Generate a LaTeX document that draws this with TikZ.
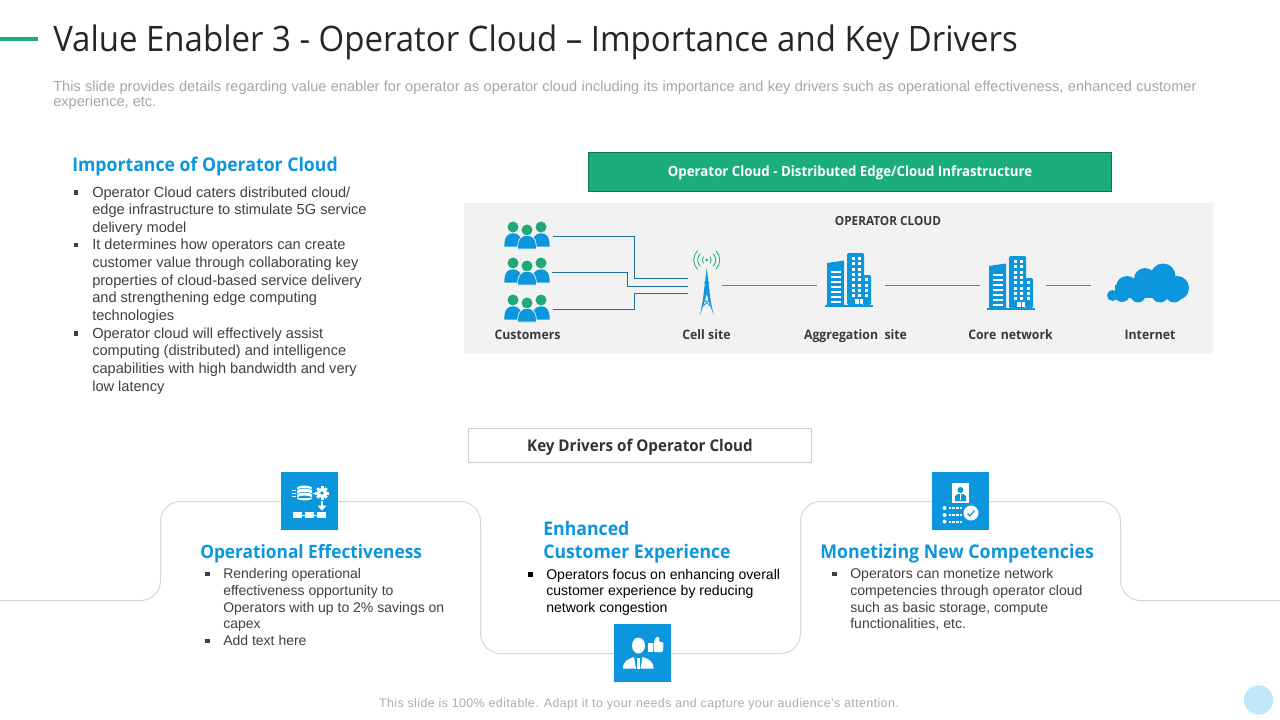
\documentclass[tikz,border=0pt]{standalone}
\usepackage{fontspec}
\setmainfont{Liberation Sans}
\newfontfamily\segoe[FakeStretch=0.94]{Open Sans}
\definecolor{sky}{HTML}{0B96DE}
\definecolor{leaf}{HTML}{1BAE7C}
\definecolor{peoplegreen}{HTML}{1FA878}
\definecolor{wire}{HTML}{1F6F9F}
\definecolor{wirelight}{HTML}{1E9BC8}
\definecolor{ink}{HTML}{404040}
\definecolor{labelink}{HTML}{3A3A3A}
\definecolor{dotblue}{HTML}{BFE7FA}
\newcommand{\bul}{\rule[1.9pt]{3.2pt}{3.2pt}}
\newcommand{\bl}[1]{\llap{\bul\hspace{#1}}}
\tikzset{
 x=0.75pt,y=-0.75pt,
 txt/.style={inner sep=0pt,anchor=north west,align=left,text=ink,font=\fontsize{10.95}{13.23}\selectfont},
 head/.style={inner sep=0pt,anchor=west,text=sky,align=left},
 lab/.style={inner sep=0pt,text=labelink,text height=7.5pt,text depth=2.2pt,font=\segoe\bfseries\fontsize{9.8}{12}\selectfont},
 iconbox/.style={fill=sky,draw=none,minimum width=42.75pt,minimum height=43.5pt,inner sep=0pt},
 custline/.style={draw=wire,line width=0.75pt},
 linkline/.style={draw=wirelight,line width=0.75pt},
 people/.pic={
  \foreach \xx/\yy/\ww in {-14/-8/8.7,14/-8/8.7}{
   \fill[peoplegreen] (\xx,\yy) circle (5.5);
   \fill[sky] (\xx-\ww,\yy+19.7) .. controls (\xx-\ww,\yy+9) and (\xx-5,\yy+6.3) .. (\xx,\yy+6.3) .. controls (\xx+5,\yy+6.3) and (\xx+\ww,\yy+9) .. (\xx+\ww,\yy+19.7) -- cycle;
  }
  \fill[peoplegreen] (0,-5) circle (5.5);
  \draw[fill=sky,draw=black!5,line width=0.5pt] (-9.5,14) .. controls (-9.5,3) and (-5,0.3) .. (0,0.3) .. controls (5,0.3) and (9.5,3) .. (9.5,14) -- cycle;
 },
 building/.pic={
  \fill[sky] (0,0) rectangle (48,-2.5);
  \fill[sky] (2,-2) -- (2,-44) -- (19,-46.5) -- (19,-2) -- cycle;
  \fill[sky,rounded corners=1pt] (22,-2) -- (22,-54) -- (39,-54) -- (39,-2) -- cycle;
  \fill[sky,rounded corners=1pt] (38,-2) -- (38,-32) -- (46,-32) -- (46,-2) -- cycle;
  \foreach \yy in {-6,-11,...,-39}{\fill[white] (6,\yy) rectangle (16,\yy+2);}
  \foreach \yy in {-50,-44.7,...,-12}{
   \fill[white] (26.5,\yy) rectangle (29.8,\yy+3);
   \fill[white] (32.5,\yy) rectangle (35.8,\yy+3);}
  \foreach \yy in {-28.8,-23.5,...,-11}{\fill[white] (39.8,\yy) rectangle (43,\yy+3);}
  \fill[white] (30,-8) rectangle (33.5,-3);
  \fill[white] (34.5,-8) rectangle (38,-3);
 },
 gearpic/.pic={
  \foreach \a in {0,45,...,315}{\fill[white,rotate=\a] (-1.5,-6.7) rectangle (1.5,0);}
  \fill[white] (0,0) circle (5);
  \fill[sky] (0,0) circle (1.8);
 },
}
\begin{document}
\begin{tikzpicture}
\useasboundingbox (0,0) rectangle (1280,720);
\fill[white] (0,0) rectangle (1280,720);
% header
\fill[leaf] (0,37.5) rectangle (38,41.5);
\node[inner sep=0pt,anchor=west,text=black!85,font=\segoe\fontsize{26.3}{30}\selectfont] (title) at (53,42) {Value Enabler 3 - Operator Cloud – Importance and Key Drivers};
\node[inner sep=0pt,anchor=north west,align=left,text=black!35,font=\fontsize{10.95}{11.3}\selectfont] (subtitle) at (53,80.5) {\makebox[857.5pt][s]{This slide provides details regarding value enabler for operator as operator cloud including its importance and key drivers such as operational effectiveness, enhanced customer}\\experience, etc.};
% left column
\node[head,font=\segoe\bfseries\fontsize{14.1}{17}\selectfont] (imphead) at (72,166.5) {Importance of Operator Cloud};
\node[txt] (implist) at (92,186.2) {\bl{10.5pt}Operator Cloud caters distributed cloud/\\edge infrastructure to stimulate 5G service\\delivery model\\\bl{10.5pt}It determines how operators can create\\customer value through collaborating key\\properties of cloud-based service delivery\\and strengthening edge computing\\technologies\\\bl{10.5pt}Operator cloud will effectively assist\\computing (distributed) and intelligence\\capabilities with high bandwidth and very\\low latency};
% green banner
\node[fill=leaf,draw=black!35!leaf,line width=0.4pt,minimum width=392.5pt,minimum height=29pt,inner sep=0pt,text=white,font=\segoe\bfseries\fontsize{10.6}{12}\selectfont] (banner) at (850,171.5) {\raisebox{-4.1pt}[0pt][0pt]{Operator Cloud - Distributed Edge/Cloud Infrastructure}};
% grey panel
\node[fill=black!5,minimum width=561.75pt,minimum height=113.25pt,inner sep=0pt] (panel) at (838.5,278.5) {};
\node[lab,font=\segoe\bfseries\fontsize{9.4}{11}\selectfont] (opcloud) at (888,222) {OPERATOR CLOUD};
% customers
\pic at (527,235) {people};
\pic at (527,271) {people};
\pic at (527,308) {people};
\coordinate (c1) at (553,236.5);
\coordinate (c2) at (552,272.5);
\coordinate (c3) at (553,309);
\coordinate (t1) at (688,278.5);
\coordinate (t2) at (688,286.5);
\coordinate (t3) at (688,293.5);
\draw[custline] (c1) -- (634.5,236.5) |- (t1);
\draw[custline] (c2) -- (627,272.5) |- (t2);
\draw[custline] (c3) -- (634.5,309) |- (t3);
% tower
\coordinate (towerR) at (722,285);
\fill[sky] (706.7,268) -- (710.5,300) -- (713.5,315) -- (708.3,300) -- (706.7,290) -- (705.1,300) -- (700,315) -- (702.9,300) -- cycle;
\draw[sky,line width=0.6pt] (704.4,282) -- (709,290) -- (703.6,299) -- (710,306);
\draw[sky,line width=0.6pt] (709,282) -- (704.4,290) -- (709.8,299) -- (703.4,306);
\fill[peoplegreen] (706.7,260) circle (1.5);
\foreach \r in {4.5,9,13}{
 \draw[peoplegreen,line width=0.6pt] (706.7,260)++(-45:\r) arc[start angle=-45,end angle=45,radius=\r];
 \draw[peoplegreen,line width=0.6pt] (706.7,260)++(135:\r) arc[start angle=135,end angle=225,radius=\r];
}
% sites
\pic at (825,307) {building};
\pic at (987,310) {building};
\coordinate (a1) at (817,285);
\coordinate (a2) at (885,285);
\coordinate (b1) at (980,285);
\coordinate (b2) at (1046,285);
\coordinate (i1) at (1091,285);
\draw[linkline] (towerR) -- (a1);
\draw[linkline] (a2) -- (b1);
\draw[linkline] (b2) -- (i1);
% cloud
\foreach \cx/\cy/\cr in {1112.5/295.5/5.5,1127/287/11,1145/279/11,1163/276/12.5,1177/288/12,1138/295/7.5,1160/294/8.5,1174/294/8.5,1122/294/8}{\fill[sky] (\cx,\cy) circle (\cr);}
\fill[sky] (1115,285) rectangle (1175,298);
% labels
\node[lab] (lcust) at (527.5,335.7) {Customers};
\node[lab] (lcell) at (706.5,335.7) {Cell site};
\node[lab] (lagg) at (855.5,335.7) {Aggregation\ \ site};
\node[lab] (lcore) at (1010.5,335.7) {Core\hspace{3.4pt}network};
\node[lab] (lint) at (1150,335.7) {Internet};
% key drivers
\node[draw=black!20,fill=white,line width=0.75pt,minimum width=257pt,minimum height=25.5pt,inner sep=0pt,text=black!80,font=\segoe\bfseries\fontsize{12.1}{14}\selectfont] (keyd) at (640,445.5) {\raisebox{-4.4pt}[0pt][0pt]{Key Drivers of Operator Cloud}};
% outline
\draw[black!16,line width=0.75pt,rounded corners=15pt] (-5,600.5) -- (160.5,600.5) -- (160.5,501.5) -- (480.5,501.5) -- (480.5,653.5) -- (800.5,653.5) -- (800.5,501.5) -- (1120.5,501.5) -- (1120.5,600.5) -- (1285,600.5);
% icon boxes
\node[iconbox] (box1) at (309.5,501) {};
\node[iconbox] (box2) at (960.5,501) {};
\node[iconbox] (box3) at (642.5,653) {};
% icon 1
\begin{scope}[shift={(304.5,488)}]
 \fill[white] (0,0) ellipse (7.5 and 2.4);
 \fill[white] (-7.5,1) rectangle (7.5,10) (0,10) ellipse (7.5 and 2.4);
 \draw[sky,line width=0.4pt] (-7.5,2.5) arc[start angle=180,end angle=360,x radius=7.5,y radius=2.2];
 \draw[sky,line width=0.4pt] (-7.5,6.5) arc[start angle=180,end angle=360,x radius=7.5,y radius=2.2];
 \draw[white,line width=0.6pt] (-12.5,2) -- (-8.5,2) (-12.5,5) -- (-8.5,5) (-12.5,8) -- (-8.5,8);
 \draw[white,line width=0.6pt] (8,5) -- (12,5);
\end{scope}
\pic at (322,493) {gearpic};
\fill[white] (320.8,500.5) rectangle (323.2,506);
\fill[white] (317.5,505.5) -- (326.5,505.5) -- (322,510.5) -- cycle;
\foreach \xx in {297.5,309,321.5}{\fill[white] (\xx-4.5,512) rectangle (\xx+4.5,518);}
\draw[white,line width=0.5pt] (297,515) -- (321,515);
% icon 2
\fill[white] (952,483) rectangle (969,503);
\fill[sky] (960.5,490) circle (3);
\fill[sky] (955,501) -- (955,496) -- (958,494) -- (963,494) -- (966,496) -- (966,501) -- cycle;
\fill[white] (959.7,494) rectangle (961.3,500);
\foreach \yy in {508,515,521.5}{
 \fill[white] (944.5,\yy) circle (2);
 \draw[white,line width=1.5pt,dash pattern=on 2.2pt off 0.7pt] (948.5,\yy) -- (962,\yy);
}
\fill[white] (971,513) circle (7.5);
\draw[sky,line width=0.9pt] (967.5,513.5) -- (970,516) -- (974.5,510.5);
% icon 3
\fill[white] (638.5,645.5) ellipse (6.5 and 8);
\fill[white] (623,668.5) .. controls (623,661) and (628,659) .. (634,657) -- (636,668.5) -- cycle;
\fill[white] (653.5,668.5) .. controls (653.5,661) and (648.5,659) .. (642.5,657) -- (640.5,668.5) -- cycle;
\fill[white] (636.8,658) rectangle (639.8,668.5);
\fill[white] (648,642.5) rectangle (652.5,652);
\fill[white,rounded corners=1pt] (653.5,652) -- (653.5,643) -- (656.5,636.5) -- (659.5,637) -- (659,642) -- (663.5,642) -- (663,652) -- cycle;
% driver text
\node[head,font=\segoe\bfseries\fontsize{13.8}{17.3}\selectfont] (h1) at (200,554) {Operational Effectiveness};
\node[txt,font=\fontsize{10.5}{12.55}\selectfont] (t1list) at (223,568.3) {\bl{10.3pt}Rendering operational\\effectiveness opportunity to\\Operators with up to 2\% savings on\\capex\\\bl{10.3pt}Add text here};
\node[head,font=\segoe\bfseries\fontsize{14.1}{17.3}\selectfont] (h2) at (543,542) {Enhanced\\Customer Experience};
\node[txt,text=black,font=\fontsize{10.55}{12.4}\selectfont] (t2list) at (546,568.7) {\bl{10.3pt}Operators focus on enhancing overall\\customer experience by reducing\\network congestion};
\node[head,font=\segoe\bfseries\fontsize{14.2}{17.3}\selectfont] (h3) at (820,554) {Monetizing New Competencies};
\node[txt,font=\fontsize{10.55}{12.5}\selectfont] (t3list) at (850,568.3) {\bl{10.3pt}Operators can monetize network\\competencies through operator cloud\\such as basic storage, compute\\functionalities, etc.};
% footer
\node[inner sep=0pt,text=black!32,font=\fontsize{9.35}{11}\selectfont] (foot) at (639,704.5) {\addfontfeature{LetterSpace=3}This slide is 100\% editable. Adapt it to your needs and capture your audience's attention.};
\node[circle,fill=dotblue,minimum size=22pt,inner sep=0pt] (dot) at (1258.5,700) {};
\end{tikzpicture}
\end{document}
